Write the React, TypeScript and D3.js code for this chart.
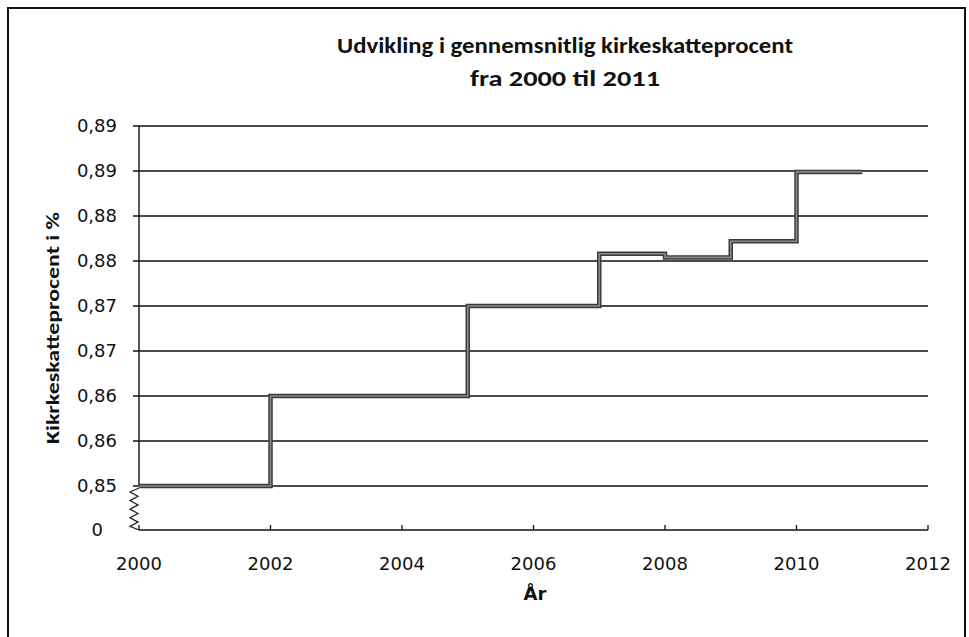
import React, { useRef, useEffect } from 'react';
import * as d3 from 'd3';

// average church tax rate per year
const years = [2000, 2001, 2002, 2003, 2004, 2005, 2006, 2007, 2008, 2009, 2010, 2011];
const rates = [0.85, 0.85, 0.86, 0.86, 0.86, 0.87, 0.87, 0.8758, 0.8754, 0.8772, 0.8849, 0.8849];

const xTicks = [2000, 2002, 2004, 2006, 2008, 2010, 2012];
const yTicks = [0.85, 0.855, 0.86, 0.865, 0.87, 0.875, 0.88, 0.885, 0.89];
const yTickLabels = ['0,85', '0,86', '0,86', '0,87', '0,87', '0,88', '0,88', '0,89', '0,89'];

const titleLines = ['Udvikling i gennemsnitlig kirkeskatteprocent', 'fra 2000 til 2011'];

export default function App() {
  const ref = useRef<SVGSVGElement>(null);

  useEffect(() => {
    const width = 969;
    const height = 637;
    const svg = d3.select(ref.current);
    svg.selectAll('*').remove();

    const x = d3.scaleLinear().domain([2000, 2012]).range([139, 928]);
    const y = d3.scaleLinear().domain([0.85, 0.89]).range([486, 126]);
    const breakGap = 44;
    const axisY = y(0.85) + breakGap;
    const left = x(2000);
    const right = x(2012);

    svg.append('rect')
      .attr('width', width).attr('height', height).attr('fill', 'white');

    // chart border
    svg.append('rect')
      .attr('x', 8).attr('y', 8)
      .attr('width', 957).attr('height', 660)
      .attr('fill', 'none').attr('stroke', '#111').attr('stroke-width', 2);

    // title
    const titleFont = "Carlito, 'Liberation Sans', Arial, sans-serif";
    const lens = [456, 190];
    const base = [53, 86];
    titleLines.forEach((t, i) => {
      svg.append('text')
        .attr('x', 565).attr('y', base[i])
        .attr('text-anchor', 'middle')
        .attr('font-family', titleFont)
        .attr('font-weight', 'bold')
        .attr('font-size', 23)
        .attr('textLength', lens[i])
        .attr('lengthAdjust', 'spacingAndGlyphs')
        .attr('fill', '#111')
        .text(t);
    });

    // gridlines + y ticks
    const g = svg.append('g');
    g.selectAll('line.grid')
      .data(yTicks)
      .enter()
      .append('line')
      .attr('class', 'grid')
      .attr('x1', left - 6).attr('x2', right)
      .attr('y1', d => y(d)).attr('y2', d => y(d))
      .attr('stroke', '#111').attr('stroke-width', 1.4);

    const tickFont = "'DejaVu Sans', Verdana, sans-serif";
    g.selectAll('text.ylab')
      .data(yTicks)
      .enter()
      .append('text')
      .attr('class', 'ylab')
      .attr('x', 117).attr('y', d => y(d))
      .attr('dy', '0.36em')
      .attr('text-anchor', 'end')
      .attr('font-family', tickFont)
      .attr('font-size', 18)
      .attr('fill', '#111')
      .text((d, i) => yTickLabels[i]);

    // "0" below the axis break
    g.append('text')
      .attr('x', 103).attr('y', axisY)
      .attr('dy', '0.36em')
      .attr('text-anchor', 'end')
      .attr('font-family', tickFont)
      .attr('font-size', 18)
      .attr('fill', '#111')
      .text('0');

    // y axis line
    g.append('line')
      .attr('x1', left).attr('x2', left)
      .attr('y1', y(0.89)).attr('y2', y(0.85))
      .attr('stroke', '#111').attr('stroke-width', 1.4);

    // axis break zigzag
    const zz: [number, number][] = [[left, y(0.85) + 2]];
    for (let k = 0; k < 9; k++) {
      zz.push([k % 2 === 0 ? left - 9 : left - 1, y(0.85) + 6 + k * 4.3]);
    }
    zz.push([left, axisY]);
    g.append('path')
      .attr('d', d3.line()(zz))
      .attr('fill', 'none').attr('stroke', '#222').attr('stroke-width', 1.3);

    // x axis
    g.append('line')
      .attr('x1', left).attr('x2', right)
      .attr('y1', axisY).attr('y2', axisY)
      .attr('stroke', '#111').attr('stroke-width', 1.4);

    g.selectAll('line.xtick')
      .data(xTicks)
      .enter()
      .append('line')
      .attr('class', 'xtick')
      .attr('x1', d => x(d)).attr('x2', d => x(d))
      .attr('y1', axisY).attr('y2', axisY - 5)
      .attr('stroke', '#111').attr('stroke-width', 1.3);

    g.selectAll('text.xlab')
      .data(xTicks)
      .enter()
      .append('text')
      .attr('class', 'xlab')
      .attr('x', d => x(d)).attr('y', 570)
      .attr('text-anchor', 'middle')
      .attr('font-family', tickFont)
      .attr('font-size', 18)
      .attr('fill', '#111')
      .text(d => String(d));

    // axis titles
    svg.append('text')
      .attr('x', 535).attr('y', 600)
      .attr('text-anchor', 'middle')
      .attr('font-family', tickFont)
      .attr('font-weight', 'bold')
      .attr('font-size', 18)
      .attr('fill', '#111')
      .text('År');

    svg.append('text')
      .attr('transform', `translate(59,${(y(0.89) + axisY) / 2}) rotate(-90)`)
      .attr('text-anchor', 'middle')
      .attr('font-family', titleFont)
      .attr('font-weight', 'bold')
      .attr('font-size', 19)
      .attr('textLength', 232)
      .attr('lengthAdjust', 'spacingAndGlyphs')
      .attr('fill', '#111')
      .text('Kikrkeskatteprocent i %');

    // step line
    const line = d3.line<number>()
      .x((d, i) => x(years[i]))
      .y(d => y(d))
      .curve(d3.curveStepAfter);

    svg.append('path')
      .attr('d', line(rates))
      .attr('fill', 'none')
      .attr('stroke', '#3a3a3a')
      .attr('stroke-width', 4.5);
    svg.append('path')
      .attr('d', line(rates))
      .attr('fill', 'none')
      .attr('stroke', '#8a8a8a')
      .attr('stroke-width', 1.6);
  }, []);

  return (
    <div>
      <svg
        ref={ref}
        width={969}
        height={637}
        style={{ position: 'fixed', top: 0, left: 0 }}
      />
    </div>
  );
}
